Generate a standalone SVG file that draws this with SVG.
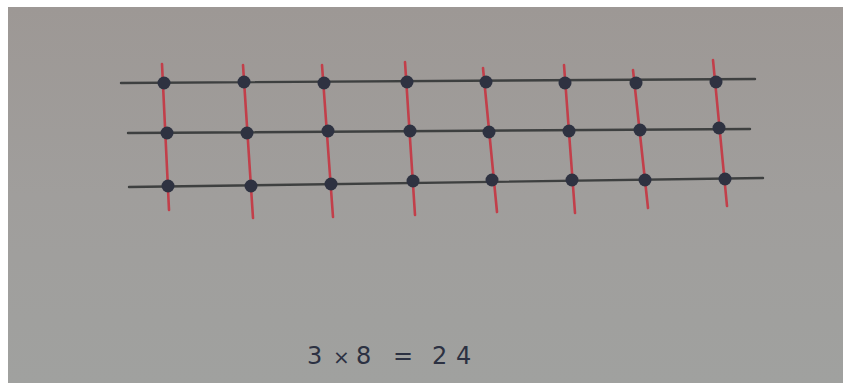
<svg xmlns="http://www.w3.org/2000/svg" width="846" height="383" viewBox="0 0 846 383">
<defs>
<linearGradient id="paper" x1="0" y1="0" x2="0" y2="1">
<stop offset="0" stop-color="#9d9895"/>
<stop offset="0.5" stop-color="#a09e9c"/>
<stop offset="1" stop-color="#a0a19f"/>
</linearGradient>
<style>
.h{stroke:#3e4040;stroke-width:2.4;fill:none;stroke-linecap:round}
.v{stroke:#c23f4a;stroke-width:2.6;fill:none;stroke-linecap:round}
.d{fill:#2e3241}
.t{font-family:"DejaVu Sans","Liberation Sans",sans-serif;font-size:24px;fill:#2c3142}
</style>
</defs>
<rect x="0" y="0" width="846" height="383" fill="#ffffff"/>
<rect x="8" y="7" width="835" height="376" fill="url(#paper)"/>
<g id="connectors">
<line class="v" x1="162" y1="64" x2="169" y2="210"/>
<line class="v" x1="243" y1="65" x2="253" y2="218"/>
<line class="v" x1="322" y1="65" x2="333" y2="217"/>
<line class="v" x1="405" y1="62" x2="415" y2="215"/>
<line class="v" x1="483" y1="68" x2="497" y2="212"/>
<line class="v" x1="564" y1="65" x2="575" y2="213"/>
<line class="v" x1="633" y1="70" x2="648" y2="208"/>
<line class="v" x1="713" y1="60" x2="727" y2="206"/>
<line class="h" x1="121" y1="83" x2="755" y2="79"/>
<line class="h" x1="128" y1="133" x2="750" y2="129"/>
<line class="h" x1="129" y1="187" x2="763" y2="178"/>
</g>
<g id="r1c1"><circle class="d" cx="164" cy="83" r="6.5"/></g>
<g id="r1c2"><circle class="d" cx="244" cy="82" r="6.5"/></g>
<g id="r1c3"><circle class="d" cx="324" cy="83" r="6.5"/></g>
<g id="r1c4"><circle class="d" cx="407" cy="82" r="6.5"/></g>
<g id="r1c5"><circle class="d" cx="486" cy="82" r="6.5"/></g>
<g id="r1c6"><circle class="d" cx="565" cy="83" r="6.5"/></g>
<g id="r1c7"><circle class="d" cx="636" cy="83" r="6.5"/></g>
<g id="r1c8"><circle class="d" cx="716" cy="82" r="6.5"/></g>
<g id="r2c1"><circle class="d" cx="167" cy="133" r="6.5"/></g>
<g id="r2c2"><circle class="d" cx="247" cy="133" r="6.5"/></g>
<g id="r2c3"><circle class="d" cx="328" cy="131" r="6.5"/></g>
<g id="r2c4"><circle class="d" cx="410" cy="131" r="6.5"/></g>
<g id="r2c5"><circle class="d" cx="489" cy="132" r="6.5"/></g>
<g id="r2c6"><circle class="d" cx="569" cy="131" r="6.5"/></g>
<g id="r2c7"><circle class="d" cx="640" cy="130" r="6.5"/></g>
<g id="r2c8"><circle class="d" cx="719" cy="128" r="6.5"/></g>
<g id="r3c1"><circle class="d" cx="168" cy="186" r="6.5"/></g>
<g id="r3c2"><circle class="d" cx="251" cy="186" r="6.5"/></g>
<g id="r3c3"><circle class="d" cx="331" cy="184" r="6.5"/></g>
<g id="r3c4"><circle class="d" cx="413" cy="181" r="6.5"/></g>
<g id="r3c5"><circle class="d" cx="492" cy="180" r="6.5"/></g>
<g id="r3c6"><circle class="d" cx="572" cy="180" r="6.5"/></g>
<g id="r3c7"><circle class="d" cx="645" cy="180" r="6.5"/></g>
<g id="r3c8"><circle class="d" cx="725" cy="179" r="6.5"/></g>
<g id="equation">
<text class="t" y="364"><tspan x="307">3</tspan><tspan x="333" font-size="20">×</tspan><tspan x="356">8</tspan><tspan x="393">=</tspan><tspan x="432">2</tspan><tspan x="456">4</tspan></text>
</g>
</svg>
